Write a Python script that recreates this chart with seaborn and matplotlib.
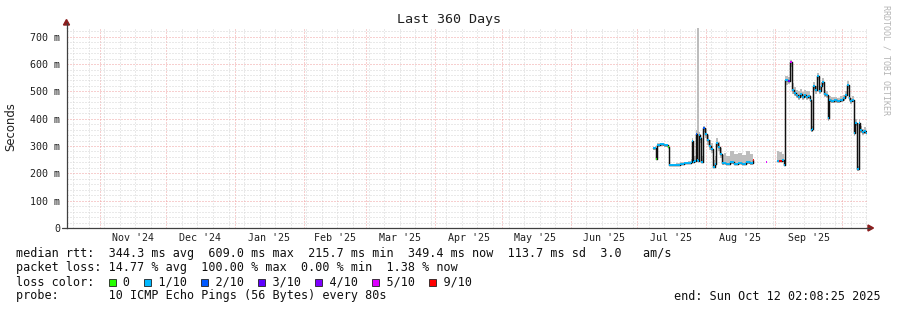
import numpy as np
import pandas as pd
import matplotlib
matplotlib.use("Agg")
import matplotlib.pyplot as plt
import matplotlib.dates as mdates
import matplotlib.transforms as mtransforms
from matplotlib.ticker import MultipleLocator, NullFormatter, FixedLocator, FixedFormatter
from matplotlib.patches import Rectangle, Polygon
from matplotlib.lines import Line2D
import seaborn as sns

# ---------------- data ----------------
period_start = "2024-10-17 02:08:25"
period_end = "2025-10-12 02:08:25"
series_origin = "2025-07-01 00:00:00"

# days after 1 Jul 2025
day_offsets = [6.84, 7.83, 8.5, 8.96, 10.3, 12.1, 13.77, 14.2, 15.7, 17.5,
               19.3, 21.1, 22.9, 24.0, 24.4, 24.9, 25.6, 26.2, 26.8, 27.3,
               27.6, 28.1, 28.5, 29.4, 30.3, 31.2, 32.1, 33.0, 34.0, 34.8,
               35.3, 36.2, 37.1, 38.1, 39.1, 40.0, 41.8, 43.6, 45.4, 47.2,
               49.0, 50.8, 51.8, 52.3, 57.8, 58.3, 62.8, 63.9, 65.1, 65.9,
               66.6, 67.8, 68.8, 69.5, 70.4, 71.3, 72.2, 73.1, 74.0, 74.9,
               75.8, 76.7, 77.6, 78.0, 78.7, 79.1, 80.0, 80.8, 81.6, 82.5,
               83.0, 83.8, 84.7, 85.6, 86.3, 87.2, 88.5, 89.9, 91.2, 92.6,
               93.5, 94.3, 95.1, 95.8, 96.5, 97.3, 98.0, 98.8, 99.5, 100.3,
               101.2, 102.1, 102.8]

nan = float("nan")
median_ms = [292, 294, 252, 304, 306, 302, 298, 231, 229, 232,
             235, 237, 239, 243, 320, 243, 246, 344, 250, 247,
             340, 330, 243, 365, 345, 322, 300, 290, 225, 236,
             310, 295, 270, 237, 238, 235, 240, 235, 238, 235,
             241, 237, 249, nan, 243, nan, 245, 244, 248, 231,
             540, 539, 609, 505, 494, 487, 480, 492, 478, 486,
             480, 483, 470, 359, 362, 518, 505, 555, 500, 520,
             536, 490, 487, 402, 470, 465, 468, 465, 470, 475,
             487, 524, 475, 463, 470, 347, 385, 216, 385, 359,
             350, 356, 349]

smoke_lo_ms = [286, 288, 248, 298, 300, 297, 292, 227, 226, 228,
               231, 233, 235, 238, 300, 238, 240, 330, 245, 242,
               325, 310, 238, 350, 330, 305, 285, 275, 220, 230,
               295, 280, 258, 232, 233, 230, 234, 230, 233, 230,
               235, 232, 244, nan, 238, nan, 240, 240, 243, 226,
               525, 528, 590, 490, 482, 476, 470, 480, 468, 475,
               470, 472, 460, 350, 352, 505, 492, 540, 490, 508,
               522, 480, 476, 392, 460, 457, 458, 457, 460, 465,
               476, 510, 465, 455, 460, 335, 372, 210, 372, 347,
               340, 345, 340]

smoke_hi_ms = [298, 300, 262, 310, 311, 308, 304, 236, 234, 237,
               240, 242, 246, 252, 330, 255, 262, 360, 740, 740,
               352, 345, 262, 375, 362, 340, 322, 310, 250, 262,
               328, 315, 292, 268, 275, 264, 280, 270, 276, 268,
               282, 272, 275, nan, 252, nan, 282, 278, 272, 240,
               555, 552, 615, 530, 515, 505, 500, 510, 498, 505,
               500, 502, 488, 372, 375, 535, 520, 568, 518, 535,
               550, 505, 500, 415, 482, 478, 480, 477, 482, 488,
               500, 538, 488, 476, 484, 362, 398, 228, 398, 372,
               364, 368, 360]

loss_tenths = [1, 1, 0, 1, 1, 1, 0, 1, 1, 1,
               1, 1, 1, 1, 1, 1, 1, 2, 1, 1,
               1, 1, 1, 2, 1, 1, 1, 1, 1, 1,
               1, 1, 1, 1, 1, 1, 1, 1, 1, 1,
               1, 1, 9, -1, 5, -1, 1, 9, 1, 1,
               1, 3, 5, 1, 1, 1, 1, 1, 1, 1,
               1, 1, 1, 1, 1, 1, 1, 1, 1, 1,
               1, 1, 1, 1, 1, 1, 1, 1, 1, 1,
               1, 1, 1, 1, 1, 1, 1, 1, 1, 1,
               1, 1, 1]

loss_levels = [0, 1, 2, 3, 4, 5, 9]
loss_labels = ["0", "1/10", "2/10", "3/10", "4/10", "5/10", "9/10"]
loss_colors = ["#26ff00", "#00b8ff", "#0059ff", "#5e00ff", "#7e00ff", "#dd00ff", "#ff0000"]

y_ticks = [0, 100, 200, 300, 400, 500, 600, 700]
y_tick_labels = ["0", "100 m", "200 m", "300 m", "400 m", "500 m", "600 m", "700 m"]

month_labels = ["Nov '24", "Dec '24", "Jan '25", "Feb '25", "Mar '25", "Apr '25",
                "May '25", "Jun '25", "Jul '25", "Aug '25", "Sep '25"]
month_label_dates = ["2024-11-16", "2024-12-16", "2025-01-16", "2025-02-15", "2025-03-16",
                     "2025-04-16", "2025-05-16", "2025-06-16", "2025-07-16", "2025-08-16",
                     "2025-09-16"]

title_text = "Last 360 Days"
ylabel_text = "Seconds"
rtt_line = "median rtt:  344.3 ms avg  609.0 ms max  215.7 ms min  349.4 ms now  113.7 ms sd  3.0   am/s"
loss_line = "packet loss: 14.77 % avg  100.00 % max  0.00 % min  1.38 % now"
probe_line = "probe:       10 ICMP Echo Pings (56 Bytes) every 80s"
end_line = "end: Sun Oct 12 02:08:25 2025"
side_text = "RRDTOOL / TOBI OETIKER"

# ---------------- build frame ----------------
origin = pd.Timestamp(series_origin)
times = origin + pd.to_timedelta(day_offsets, unit="D")
df = pd.DataFrame({"time": times, "median": median_ms, "lo": smoke_lo_ms,
                   "hi": smoke_hi_ms, "loss": loss_tenths})
df["seg"] = df["median"].isna().cumsum()
t_start = pd.Timestamp(period_start)
t_end = pd.Timestamp(period_end)

# ---------------- figure ----------------
sns.set_style("white")
plt.rcParams["font.family"] = ["DejaVu Sans Mono", "DejaVu Sans"]
W, H = 897, 310
fig = plt.figure(figsize=(W / 100, H / 100), dpi=100)
fig.patch.set_facecolor("white")

def fx(px):
    return px / W

def fy(py):
    return 1 - py / H

AX_L, AX_R, AX_T, AX_B = 66.5, 866.5, 28, 228
ax = fig.add_axes([fx(AX_L), fy(AX_B), (AX_R - AX_L) / W, (AX_B - AX_T) / H])
ax.set_facecolor("white")
ax.set_xlim(t_start, t_end)
ax.set_ylim(0, 732)

# grid
ax.xaxis.set_major_locator(mdates.MonthLocator())
ax.xaxis.set_minor_locator(mdates.WeekdayLocator(byweekday=mdates.SU))
ax.xaxis.set_major_formatter(NullFormatter())
ax.yaxis.set_major_locator(FixedLocator(y_ticks))
ax.yaxis.set_major_formatter(FixedFormatter(y_tick_labels))
ax.yaxis.set_minor_locator(MultipleLocator(20))
ax.set_axisbelow(True)
ax.grid(which="minor", color="#d4d4d4", linestyle=(0, (1, 2)), linewidth=0.72)
ax.grid(which="major", color="#f0a0a0", linestyle=(0, (1, 2)), linewidth=0.72)

for s in ["top", "right"]:
    ax.spines[s].set_visible(False)
for s in ["left", "bottom"]:
    ax.spines[s].set_color("#404040")
    ax.spines[s].set_linewidth(0.9)

ax.tick_params(axis="both", which="both", length=1.5, width=0.7, color="#606060")
ax.tick_params(axis="y", which="major", pad=3.2, labelsize=7.2, labelcolor="#202020")
ax.tick_params(axis="x", which="both", labelbottom=False)

# smoke
ax.fill_between(df["time"], df["lo"], df["hi"], step="post", color="#bdbdbd",
                linewidth=0, zorder=2)

# median line (black)
dfl = df.dropna(subset=["median"])
sns.lineplot(data=dfl, x="time", y="median", units="seg", estimator=None,
             color="#101010", linewidth=1.05, drawstyle="steps-post", ax=ax,
             legend=False, zorder=3)

# loss-coloured median segments
tt = list(df["time"])
xs0, xs1, ys, cs = [], [], [], []
for i in range(len(df)):
    m = df["median"].iloc[i]
    if np.isnan(m):
        continue
    nxt = tt[i + 1] if i + 1 < len(tt) else t_end
    lv = df["loss"].iloc[i]
    xs0.append(tt[i]); xs1.append(nxt); ys.append(m)
    cs.append(loss_colors[loss_levels.index(lv)])
ax.hlines(ys, xs0, xs1, colors=cs, linewidth=1.35, zorder=4)

ax.set_xlabel("")
ax.set_ylabel("")

# axis extensions + arrows
arrow_c = "#8b1e1e"
fig.add_artist(Line2D([fx(AX_L), fx(AX_L)], [fy(AX_T), fy(23)], color="#404040",
                      lw=0.9, transform=fig.transFigure))
fig.add_artist(Line2D([fx(62), fx(AX_L)], [fy(AX_B), fy(AX_B)], color="#404040",
                      lw=0.9, transform=fig.transFigure))
fig.add_artist(Line2D([fx(AX_R), fx(870)], [fy(AX_B), fy(AX_B)], color="#404040",
                      lw=0.9, transform=fig.transFigure))
fig.add_artist(Polygon([[fx(AX_L - 3), fy(25)], [fx(AX_L + 3), fy(25)], [fx(AX_L), fy(19.5)]],
                       closed=True, color=arrow_c, transform=fig.transFigure))
fig.add_artist(Polygon([[fx(868), fy(AX_B - 3)], [fx(868), fy(AX_B + 3)], [fx(873.5), fy(AX_B)]],
                       closed=True, color=arrow_c, transform=fig.transFigure))

# month labels
btr = mtransforms.blended_transform_factory(ax.transData, fig.transFigure)
for lab, d in zip(month_labels, month_label_dates):
    ax.text(mdates.date2num(pd.Timestamp(d)), fy(238), lab, transform=btr,
            ha="center", va="center", fontsize=7.2, color="#202020",
            family="DejaVu Sans Mono", clip_on=False)

# title / ylabel / side text
fig.text(0.5, fy(19), title_text, ha="center", va="center", fontsize=9.6,
         family="DejaVu Sans Mono", color="#202020")
fig.text(fx(11), fy(127), ylabel_text, ha="center", va="center", rotation=90,
         fontsize=8.4, family="DejaVu Sans", color="#202020")
fig.text(fx(886), fy(60), side_text, ha="center", va="center", rotation=270,
         fontsize=6, family="DejaVu Sans Mono", color="#b4b4b4")

# legend block
LX = 16
CW = 8.5 * 100 / 72 * 0.60205
fsz = 8.5
fig.text(fx(LX), fy(254), rtt_line, ha="left", va="center", fontsize=fsz,
         family="DejaVu Sans Mono", color="#101010")
fig.text(fx(LX), fy(268), loss_line, ha="left", va="center", fontsize=fsz,
         family="DejaVu Sans Mono", color="#101010")

legend_str = "loss color:  "
box_chars = []
for lab in loss_labels:
    box_chars.append(len(legend_str))
    legend_str += "  " + lab + "  "
fig.text(fx(LX), fy(282), legend_str.rstrip(), ha="left", va="center", fontsize=fsz,
         family="DejaVu Sans Mono", color="#101010")
for c, col in zip(box_chars, loss_colors):
    x0 = LX + c * CW + 0.3
    fig.add_artist(Rectangle((fx(x0), fy(286.3)), 7.0 / W, 7.3 / H, facecolor=col,
                             edgecolor="#202020", linewidth=0.6, transform=fig.transFigure))

fig.text(fx(LX), fy(296), probe_line, ha="left", va="center", fontsize=fsz,
         family="DejaVu Sans Mono", color="#101010")
fig.text(fx(880.5), fy(296), end_line, ha="right", va="center", fontsize=fsz,
         family="DejaVu Sans Mono", color="#101010")

fig.savefig("out.png", dpi=100, facecolor="white")
